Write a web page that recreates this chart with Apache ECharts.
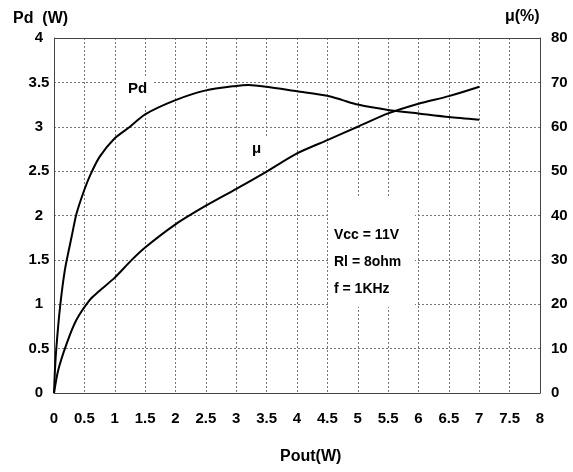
<!DOCTYPE html>
<html>
<head>
<meta charset="utf-8">
<script src="https://cdn.jsdelivr.net/npm/echarts@6/dist/echarts.min.js"></script>
<style>html,body{margin:0;padding:0;background:#fff}#c{width:573px;height:472px}</style>
</head>
<body>
<div id="c"></div>
<script>
// Pout (W) vs Pd (W)
const pdData = [[0,0],[0.015,0.25],[0.04,0.52],[0.1,0.97],[0.18,1.39],[0.29,1.76],[0.37,2.02],[0.5,2.29],[0.6,2.46],[0.75,2.66],[1.0,2.87],[1.25,3.0],[1.5,3.14],[2.0,3.30],[2.5,3.41],[3.0,3.46],[3.2,3.47],[3.5,3.45],[4.0,3.40],[4.5,3.35],[4.75,3.30],[5.0,3.25],[5.5,3.19],[6.0,3.15],[6.5,3.11],[7.0,3.08]];
// Pout (W) vs efficiency mu (%)
const muData = [[0,0],[0.07,5.2],[0.21,11.2],[0.37,16.5],[0.59,21.0],[0.73,22.8],[1.0,26.0],[1.28,30.0],[1.5,32.8],[2.0,38.0],[2.5,42.2],[3.0,46.0],[3.5,49.9],[4.0,54.0],[4.5,57.0],[5.0,60.0],[5.5,63.0],[6.0,65.2],[6.5,66.9],[7.0,69.0]];
const conditions = ['Vcc = 11V', 'Rl = 8ohm', 'f = 1KHz'];

const FONT = '"Liberation Sans", Arial, sans-serif';
const lbl = {fontFamily: FONT, fontWeight: 'bold', fontSize: 15, color: '#000'};
const chart = echarts.init(document.getElementById('c'));
chart.setOption({
  animation: false,
  grid: {left: 54, right: 33, top: 38, bottom: 79},
  xAxis: {
    type: 'value', min: 0, max: 8, interval: 0.5,
    axisLine: {show: true, lineStyle: {color: '#444', width: 1}},
    axisTick: {show: false},
    axisLabel: Object.assign({margin: 18}, lbl),
    splitLine: {show: true, lineStyle: {color: '#777', type: [2, 2], width: 1}}
  },
  yAxis: [{
    type: 'value', min: 0, max: 4, interval: 0.5,
    axisLine: {show: true, lineStyle: {color: '#444', width: 1}},
    axisTick: {show: false},
    axisLabel: Object.assign({margin: 15, align: 'center'}, lbl),
    splitLine: {show: true, lineStyle: {color: '#777', type: [2, 2], width: 1}}
  }, {
    type: 'value', min: 0, max: 80, interval: 10,
    axisLine: {show: true, lineStyle: {color: '#444', width: 1}},
    axisTick: {show: false},
    axisLabel: Object.assign({margin: 11, align: 'left'}, lbl),
    splitLine: {show: false}
  }],
  graphic: [
    {type: 'line', shape: {x1: 54, y1: 38.5, x2: 540, y2: 38.5}, style: {stroke: '#444', lineWidth: 1}, z: 5},
    {type: 'rect', shape: {x: 328, y: 197, width: 87, height: 110}, style: {fill: '#fff'}, z: 5},
    {type: 'text', left: 334, top: 222, style: Object.assign({text: conditions.join('\n'), lineHeight: 27}, lbl, {fontSize: 14}), z: 6},
    {type: 'rect', shape: {x: 116, y: 76, width: 37, height: 28}, style: {fill: '#fff'}, z: 5},
    {type: 'text', left: 128, top: 81, style: Object.assign({text: 'Pd'}, lbl), z: 6},
    {type: 'rect', shape: {x: 246, y: 136, width: 22, height: 24}, style: {fill: '#fff'}, z: 5},
    {type: 'text', left: 252, top: 141, style: Object.assign({text: 'μ'}, lbl), z: 6},
    {type: 'text', left: 13, top: 11, style: Object.assign({text: 'Pd  (W)'}, lbl, {fontSize: 16}), z: 6},
    {type: 'text', left: 505, top: 9, style: Object.assign({text: 'μ(%)'}, lbl, {fontSize: 16}), z: 6},
    {type: 'text', left: 280, top: 449, style: Object.assign({text: 'Pout(W)'}, lbl, {fontSize: 16}), z: 6}
  ],
  series: [{
    name: 'Pd', type: 'line', yAxisIndex: 0, data: pdData,
    showSymbol: false, smooth: 0.25,
    lineStyle: {color: '#000', width: 2}, z: 10
  }, {
    name: 'μ', type: 'line', yAxisIndex: 1, data: muData,
    showSymbol: false, smooth: 0.25,
    lineStyle: {color: '#000', width: 2}, z: 10
  }]
});
</script>
</body>
</html>
